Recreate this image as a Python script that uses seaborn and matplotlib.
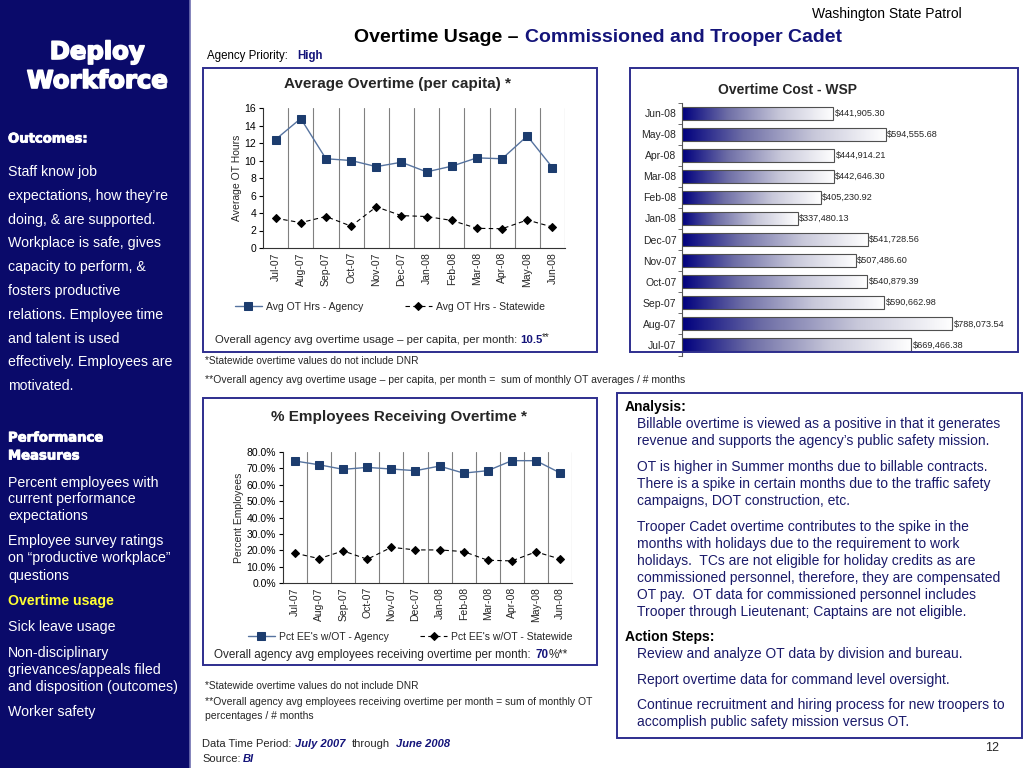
import numpy as np
import matplotlib
matplotlib.use('Agg')
import matplotlib.pyplot as plt
import matplotlib.patheffects as pe
from matplotlib.patches import Rectangle
from matplotlib.colors import LinearSegmentedColormap
import seaborn as sns

months = ['Jul-07', 'Aug-07', 'Sep-07', 'Oct-07', 'Nov-07', 'Dec-07',
          'Jan-08', 'Feb-08', 'Mar-08', 'Apr-08', 'May-08', 'Jun-08']
ot_agency = [12.4, 14.8, 10.2, 10.0, 9.3, 9.8, 8.7, 9.35, 10.3, 10.2, 12.8, 9.2]
ot_state = [3.4, 2.9, 3.6, 2.5, 4.7, 3.7, 3.6, 3.15, 2.25, 2.2, 3.2, 2.4]
pct_agency = [74.5, 72.2, 69.4, 70.6, 69.6, 68.6, 71.4, 67.1, 68.6, 74.7, 74.7, 67.3]
pct_state = [18.2, 14.9, 19.6, 14.5, 21.8, 20.2, 20.2, 19.2, 13.9, 13.5, 19.0, 14.7]
ot_cost = [669466.38, 788073.54, 590662.98, 540879.39, 507486.60, 541728.56,
           337480.13, 405230.92, 442646.30, 444914.21, 594555.68, 441905.30]

sns.set_theme(style='white')
plt.rcParams['font.family'] = ['Liberation Sans', 'DejaVu Sans']

NAVY = '#14147a'
W, H = 1024, 768
fig = plt.figure(figsize=(10.24, 7.68), dpi=100)
fig.patch.set_facecolor('white')


def fx(x):
    return x / W


def fy(y):
    return 1 - y / H


def txt(x, y, s, **kw):
    kw.setdefault('va', 'center')
    return fig.text(fx(x), fy(y), s, **kw)


def box(x0, y0, x1, y1, **kw):
    fig.add_artist(Rectangle((fx(x0), fy(y1)), (x1 - x0) / W, (y1 - y0) / H,
                             transform=fig.transFigure, **kw))


def axes_px(x0, y0, x1, y1):
    return fig.add_axes([fx(x0), fy(y1), (x1 - x0) / W, (y1 - y0) / H])


# ---- left panel ----
box(0, 0, 190, 768, facecolor='#0a0a6a', edgecolor='none')
fig.add_artist(plt.Line2D([fx(190), fx(190)], [0, 1], color='#7070b0', lw=1.2, transform=fig.transFigure))
# thicker strokes to mimic the black-weight headings
heavy = [pe.withStroke(linewidth=1.2, foreground='white')]
hdr = dict(color='white', fontweight='bold', family='DejaVu Sans', path_effects=heavy)
txt(97, 52, 'Deploy', ha='center', fontsize=17.5, **hdr)
txt(97, 81, 'Workforce', ha='center', fontsize=17.5, **hdr)
hdr['path_effects'] = [pe.withStroke(linewidth=0.6, foreground='white')]
txt(8, 139, 'Outcomes:', fontsize=9.5, **hdr)
outcomes = ['Staff know job', "expectations, how they\u2019re", 'doing, & are supported.',
            'Workplace is safe, gives', 'capacity to perform, &', 'fosters productive',
            'relations. Employee time', 'and talent is used',
            'effectively. Employees are', 'motivated.']
for i, line in enumerate(outcomes):
    txt(8, 172 + i * 23.8, line, color='white', fontsize=10.2)
txt(8, 438, 'Performance', fontsize=9.5, **hdr)
txt(8, 456, 'Measures', fontsize=9.5, **hdr)
measures = [(483, 'Percent employees with'), (499, 'current performance'), (516, 'expectations'),
            (541, 'Employee survey ratings'), (558, 'on \u201cproductive workplace\u201d'),
            (576, 'questions'), (627, 'Sick leave usage'), (653, 'Non-disciplinary'),
            (670, 'grievances/appeals filed'), (687, 'and disposition (outcomes)'),
            (712, 'Worker safety')]
for y, line in measures:
    txt(8, y, line, color='white', fontsize=10.2)
txt(8, 601, 'Overtime usage', color='#ffff33', fontsize=10.2, fontweight='bold')

# ---- header ----
txt(962, 14, 'Washington State Patrol', ha='right', fontsize=10, color='black')
txt(524, 37, 'Overtime Usage \u2013 ', ha='right', fontsize=14, fontweight='bold', color='black')
txt(525, 37, 'Commissioned and Trooper Cadet', ha='left', fontsize=14, fontweight='bold', color=NAVY)
txt(207, 56, 'Agency Priority: ', fontsize=8.3, color='black')
txt(297, 56, 'High', fontsize=8.3, fontweight='bold', color=NAVY)

# ---- boxes ----
for b in [(203, 68, 597, 352), (630, 68, 1018, 352), (203, 398, 597, 665), (617, 393, 1022, 738)]:
    box(*b, facecolor='none', edgecolor='#2e2e8e', lw=1.4)


def line_chart(ax, agency, state, lab_a, lab_s, ylabel, legend_xy, colsp):
    sns.lineplot(x=months, y=agency, ax=ax, sort=False, color='#56739f', lw=1,
                 marker='s', markersize=6, markerfacecolor='#1c3c6e',
                 markeredgecolor='#1c3c6e', label=lab_a)
    sns.lineplot(x=months, y=state, ax=ax, sort=False, color='black', lw=0.8,
                 linestyle=(0, (4, 3)), marker='D', markersize=4.5,
                 markerfacecolor='black', markeredgecolor='black', label=lab_s)
    ax.set_xlim(-0.5, len(months) - 0.5)
    for k in range(len(months)):
        ax.axvline(k + 0.5, color='#808080', lw=0.8, zorder=0)
    for s in ['top', 'right']:
        ax.spines[s].set_visible(False)
    for s in ['left', 'bottom']:
        ax.spines[s].set_color('#333333')
        ax.spines[s].set_linewidth(0.8)
    ax.tick_params(axis='y', left=True, length=3, width=0.8, labelsize=7.5, pad=2, colors='black')
    ax.tick_params(axis='x', length=0, labelsize=7.5, pad=3, rotation=90)
    ax.set_xlabel('')
    ax.set_ylabel(ylabel, fontsize=7.5, labelpad=2)
    ax.legend(loc='center', bbox_to_anchor=legend_xy, ncol=2, frameon=False,
              fontsize=7.5, handlelength=2.6, columnspacing=colsp, handletextpad=0.4)
    ax.set_facecolor('white')


# ---- chart 1 ----
txt(398, 84, 'Average Overtime (per capita) *', ha='center', fontsize=11, fontweight='bold')
ax1 = axes_px(263, 108, 565, 248)
line_chart(ax1, ot_agency, ot_state, 'Avg OT Hrs - Agency', 'Avg OT Hrs - Statewide',
           'Average OT Hours', (0.42, -0.42), 4)
ax1.set_ylim(0, 16)
ax1.set_yticks(range(0, 17, 2))
txt(215, 340, 'Overall agency avg overtime usage \u2013 per capita, per month:', fontsize=8.2)
txt(520, 340, '10.5', fontsize=8.2, fontweight='bold', color=NAVY)
txt(542, 337, '**', fontsize=7)
txt(205, 361, '*Statewide overtime values do not include DNR', fontsize=7.3)
txt(205, 380, '**Overall agency avg overtime usage \u2013 per capita, per month =  '
              'sum of monthly OT averages / # months', fontsize=7.5)

# ---- chart 3 ----
txt(399, 417, '% Employees Receiving Overtime *', ha='center', fontsize=11, fontweight='bold')
ax3 = axes_px(283, 452, 572, 583)
line_chart(ax3, pct_agency, pct_state, "Pct EE's w/OT - Agency", "Pct EE's w/OT - Statewide",
           'Percent Employees', (0.44, -0.41), 3)
ax3.set_ylim(0, 80)
ax3.set_yticks(range(0, 81, 10))
ax3.set_yticklabels([f'{v:.1f}%' for v in range(0, 81, 10)])
txt(214, 655, 'Overall agency avg employees receiving overtime per month:', fontsize=8.4)
txt(535, 655, '70', fontsize=8.4, fontweight='bold', color=NAVY)
txt(549, 655, '%**', fontsize=8.4)
txt(205, 686, '*Statewide overtime values do not include DNR', fontsize=7.3)
txt(205, 702, '**Overall agency avg employees receiving overtime per month = sum of monthly OT',
    fontsize=7.5)
txt(205, 716, 'percentages / # months', fontsize=7.5)

# ---- chart 2: cost bars ----
txt(788, 90, 'Overtime Cost - WSP', ha='center', fontsize=10, fontweight='bold')
ax2 = axes_px(682, 102.5, 1011, 355.5)
sns.barplot(x=ot_cost, y=months, order=months[::-1], orient='h', ax=ax2,
            color='white', edgecolor='#505050', linewidth=0.8, width=0.62)
cmap = LinearSegmentedColormap.from_list(
    'navyfade', [(0, '#00007e'), (0.3, '#6e6ea6'), (0.65, '#c8c8da'), (1, '#ffffff')])
grad = np.linspace(0, 1, 256).reshape(1, -1)
for p in ax2.patches:
    p.set_facecolor('none')
    p.set_zorder(3)
    x0, y0, w, h = p.get_x(), p.get_y(), p.get_width(), p.get_height()
    im = ax2.imshow(grad, extent=[x0, x0 + w, y0 + h, y0], cmap=cmap, aspect='auto', zorder=2)
    im.set_clip_path(p)
ax2.bar_label(ax2.containers[0], labels=[f'${p.get_width():,.2f}' for p in ax2.containers[0]],
              padding=1, fontsize=6.6)
ax2.set_xlim(0, 960000)
ax2.set_ylim(len(months) - 0.5, -0.5)
ax2.set_xticks([])
ax2.set_xlabel('')
ax2.set_ylabel('')
for s in ['top', 'right', 'bottom']:
    ax2.spines[s].set_visible(False)
ax2.spines['left'].set_color('#555555')
ax2.spines['left'].set_linewidth(0.8)
ax2.set_yticks(np.arange(-0.5, len(months), 1), minor=True)
ax2.tick_params(axis='y', which='minor', left=True, length=3, width=0.6, colors='#555555')
ax2.tick_params(axis='y', which='major', length=0, labelsize=7.5, pad=4)
ax2.set_facecolor('white')

# ---- analysis box ----
body = dict(fontsize=10, color='#1a1a6a')
txt(625, 407, 'Analysis:', fontsize=10, fontweight='bold', color='black')
analysis = [(424, 'Billable overtime is viewed as a positive in that it generates'),
            (441, "revenue and supports the agency\u2019s public safety mission."),
            (467, 'OT is higher in Summer months due to billable contracts.'),
            (484, 'There is a spike in certain months due to the traffic safety'),
            (501, 'campaigns, DOT construction, etc.'),
            (527, 'Trooper Cadet overtime contributes to the spike in the'),
            (544, 'months with holidays due to the requirement to work'),
            (561, 'holidays.  TCs are not eligible for holiday credits as are'),
            (578, 'commissioned personnel, therefore, they are compensated'),
            (595, 'OT pay.  OT data for commissioned personnel includes'),
            (612, 'Trooper through Lieutenant; Captains are not eligible.')]
for y, line in analysis:
    txt(637, y, line, **body)
txt(625, 637, 'Action Steps:', fontsize=10, fontweight='bold', color='black')
steps = [(654, 'Review and analyze OT data by division and bureau.'),
         (680, 'Report overtime data for command level oversight.'),
         (705, 'Continue recruitment and hiring process for new troopers to'),
         (722, 'accomplish public safety mission versus OT.')]
for y, line in steps:
    txt(637, y, line, **body)

# ---- footer ----
bi = dict(fontsize=8, fontweight='bold', style='italic', color=NAVY)
txt(202, 744, 'Data Time Period:', fontsize=8)
txt(295, 744, 'July 2007', **bi)
txt(352, 744, 'through', fontsize=8)
txt(396, 744, 'June 2008', **bi)
txt(202, 759, 'Source:', fontsize=8)
txt(243, 759, 'BI', **bi)
txt(992, 748, '12', ha='center', fontsize=9)

fig.savefig('out.png', dpi=100)
